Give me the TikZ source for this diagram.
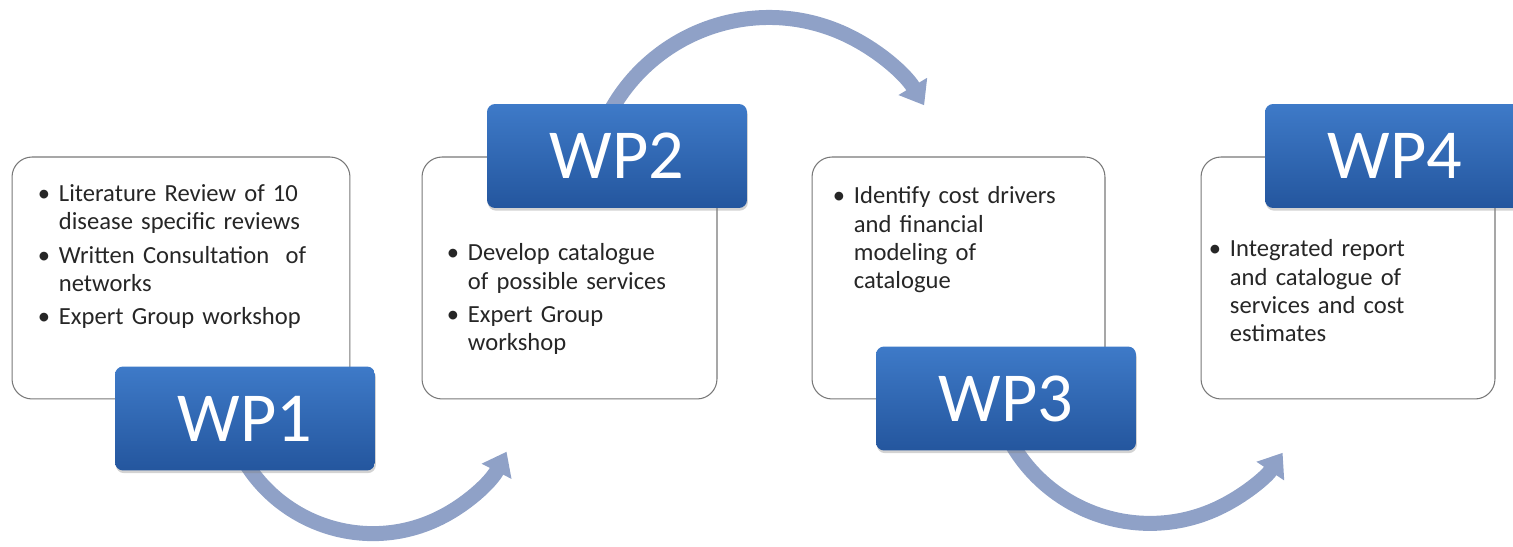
\documentclass[tikz,border=0pt]{standalone}
\usepackage{fontspec}
\setmainfont{Carlito}
\usepackage{tikz}
\usetikzlibrary{arrows.meta}
\usetikzlibrary{positioning}
\usetikzlibrary{shadows}
\definecolor{wpblue}{RGB}{62,122,200}
\definecolor{wpdark}{RGB}{36,86,158}
\definecolor{flowgray}{RGB}{143,161,199}
\definecolor{boxline}{RGB}{120,120,120}
\newcommand{\wpitem}[1]{\hangindent=12pt\hangafter=1\noindent\makebox[12pt][l]{\textbullet}#1\par\vspace{3pt}}
\tikzstyle{every node}=[font=\fontsize{14}{16}\selectfont]
\tikzstyle{panel}=[draw=boxline,line width=0.6pt,fill=white,rounded corners=0.4cm,minimum height=4.84cm]
\tikzstyle{wp}=[rounded corners=0.16cm,top color=wpblue,bottom color=wpdark,minimum width=5.2cm,minimum height=2.08cm,text=white,font=\fontsize{40}{48}\selectfont,drop shadow={shadow xshift=0.5pt,shadow yshift=-1.5pt,opacity=0.35}]
\tikzstyle{items}=[text width=6cm,align=left,inner sep=0pt,text=black!85]
\tikzstyle{flow}=[line width=0.3cm,color=flowgray,-{Triangle[width=0.64cm,length=0.44cm]}]

\begin{document}
\begin{tikzpicture}[line cap=round,line join=round,x=0.02cm,y=0.02cm]
            \useasboundingbox (0,0) rectangle (1513,547);
            \clip (0,0) rectangle (1513,547);

            \node[panel,minimum width=6.76cm] (box1) at (181,269) {};
            \node[panel,minimum width=5.90cm] (box2) at (569.5,269) {};
            \node[panel,minimum width=5.86cm] (box3) at (958.5,269) {};
            \node[panel,minimum width=5.88cm] (box4) at (1348,269) {};

            \node[items,below right=0.56cm and 0.52cm of box1.north west] (list1) {\wpitem{Literature Review of 10\newline disease specific reviews}\wpitem{Written Consultation~ of\newline networks}\wpitem{Expert Group workshop}};
            \node[items,below right=1.74cm and 0.50cm of box2.north west] (list2) {\wpitem{Develop catalogue\newline of possible services}\wpitem{Expert Group\newline workshop}};
            \node[items,below right=0.60cm and 0.42cm of box3.north west] (list3) {\wpitem{Identify cost drivers\newline and financial\newline modeling of\newline catalogue}};
            \node[items,below right=1.66cm and 0.16cm of box4.north west] (list4) {\wpitem{Integrated report\newline and catalogue of\newline services and cost\newline estimates}};

            \coordinate (s1) at (237,100);
            \coordinate (s2) at (605,425);
            \coordinate (s3) at (1005,116);
            \draw[flow] (s1) arc[start angle=205,end angle=333,radius=3cm];
            \draw[flow] (s2) arc[start angle=155,end angle=31,radius=3.62cm];
            \draw[flow] (s3) arc[start angle=205,end angle=326,radius=3.2cm];

            \node[wp] (wp1) at (245,128.5) {WP1};
            \node[wp] (wp2) at (617,391) {WP2};
            \node[wp] (wp3) at (1006,148.5) {WP3};
            \node[wp] (wp4) at (1395,391) {WP4};
\end{tikzpicture}
\end{document}
